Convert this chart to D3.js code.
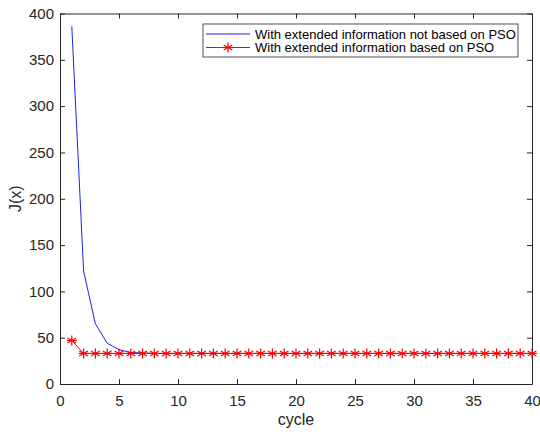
<!DOCTYPE html>
<html>
<head>
<meta charset="utf-8">
<script src="https://cdn.jsdelivr.net/npm/d3@7"></script>
<style>
body { margin: 0; background: #fff; }
text { font-family: "Liberation Sans", Arial, sans-serif; }
</style>
</head>
<body>
<div id="chart"></div>
<script>
// cycle numbers 1..40
var cycles = d3.range(1, 41);
// J(x) without PSO
var notPso = [386, 122, 65, 44, 37, 34, 33.5, 33, 33, 33, 33, 33, 33, 33, 33, 33, 33, 33, 33, 33,
              33, 33, 33, 33, 33, 33, 33, 33, 33, 33, 33, 33, 33, 33, 33, 33, 33, 33, 33, 33];
// J(x) with PSO
var withPso = [47, 33, 33, 33, 33, 33, 33, 33, 33, 33, 33, 33, 33, 33, 33, 33, 33, 33, 33, 33,
               33, 33, 33, 33, 33, 33, 33, 33, 33, 33, 33, 33, 33, 33, 33, 33, 33, 33, 33, 33];
var xTicks = [0, 5, 10, 15, 20, 25, 30, 35, 40];
var yTicks = [0, 50, 100, 150, 200, 250, 300, 350, 400];
var seriesNames = ["With extended information not based on PSO", "With extended information based on PSO"];

var width = 540, height = 434;
var margin = {left: 60, top: 13.5, right: 8, bottom: 50};

var svg = d3.select("#chart").append("svg")
    .attr("width", width)
    .attr("height", height);

var x = d3.scaleLinear().domain([0, 40]).range([margin.left, width - margin.right]);
var y = d3.scaleLinear().domain([0, 400]).range([height - margin.bottom, margin.top]);

var axisColor = "#262626";

// axes, ticks pointing inwards like matlab
var gx = svg.append("g")
    .attr("transform", "translate(0," + y(0) + ")")
    .call(d3.axisBottom(x).tickValues(xTicks).tickSizeInner(-5).tickSizeOuter(0).tickPadding(11));
var gxTop = svg.append("g")
    .attr("transform", "translate(0," + y(400) + ")")
    .call(d3.axisTop(x).tickValues(xTicks).tickSizeInner(-5).tickSizeOuter(0).tickFormat(""));
var gy = svg.append("g")
    .attr("transform", "translate(" + x(0) + ",0)")
    .call(d3.axisLeft(y).tickValues(yTicks).tickSizeInner(-5).tickSizeOuter(0).tickPadding(6));
var gyRight = svg.append("g")
    .attr("transform", "translate(" + x(40) + ",0)")
    .call(d3.axisRight(y).tickValues(yTicks).tickSizeInner(-5).tickSizeOuter(0).tickFormat(""));

[gx, gxTop, gy, gyRight].forEach(function(g) {
    g.selectAll("path").attr("stroke", axisColor);
    g.selectAll("line").attr("stroke", axisColor);
    g.selectAll("text").attr("fill", axisColor).style("font-size", "15px");
});

// axis labels
svg.append("text")
    .attr("x", x(20))
    .attr("y", 425)
    .attr("text-anchor", "middle")
    .attr("fill", axisColor)
    .style("font-size", "16px")
    .text("cycle");

svg.append("text")
    .attr("transform", "translate(21," + y(200) + ") rotate(-90)")
    .attr("text-anchor", "middle")
    .attr("fill", axisColor)
    .style("font-size", "16px")
    .text("J(x)");

var line = d3.line()
    .x(function(d, i) { return x(cycles[i]); })
    .y(function(d) { return y(d); });

// blue line
svg.append("path")
    .datum(notPso)
    .attr("d", line)
    .attr("fill", "none")
    .attr("stroke", "#2020e0")
    .attr("stroke-width", 1);

// red line with asterisks
svg.append("path")
    .datum(withPso)
    .attr("d", line)
    .attr("fill", "none")
    .attr("stroke", "#ff0000")
    .attr("stroke-width", 1);

function asterisk(g, cx, cy, r) {
    var angles = [0, 60, 120];
    angles.forEach(function(a) {
        var rad = a * Math.PI / 180;
        g.append("line")
            .attr("x1", cx - r * Math.sin(rad)).attr("y1", cy - r * Math.cos(rad))
            .attr("x2", cx + r * Math.sin(rad)).attr("y2", cy + r * Math.cos(rad))
            .attr("stroke", "#ff0000").attr("stroke-width", 1.2);
    });
    g.append("line")
        .attr("x1", cx - r).attr("y1", cy).attr("x2", cx + r).attr("y2", cy)
        .attr("stroke", "#ff0000").attr("stroke-width", 1.2);
}

var markers = svg.append("g");
withPso.forEach(function(v, i) {
    asterisk(markers, x(cycles[i]), y(v), 5);
});

// legend
var lg = svg.append("g");
lg.append("rect")
    .attr("x", 203).attr("y", 24)
    .attr("width", 315).attr("height", 33)
    .attr("fill", "#fff")
    .attr("stroke", axisColor)
    .attr("stroke-width", 0.8);

var rows = [34, 47.5];
var colors = ["#2020e0", "#ff0000"];
seriesNames.forEach(function(name, i) {
    lg.append("line")
        .attr("x1", 206).attr("x2", 250)
        .attr("y1", rows[i]).attr("y2", rows[i])
        .attr("stroke", colors[i]).attr("stroke-width", 1);
    if (i == 1) {
        asterisk(lg, 228, rows[i], 5);
    }
    lg.append("text")
        .attr("x", 255).attr("y", rows[i])
        .attr("dy", "0.35em")
        .attr("fill", "#000")
        .style("font-size", "13px")
        .text(name);
});
</script>
</body>
</html>
